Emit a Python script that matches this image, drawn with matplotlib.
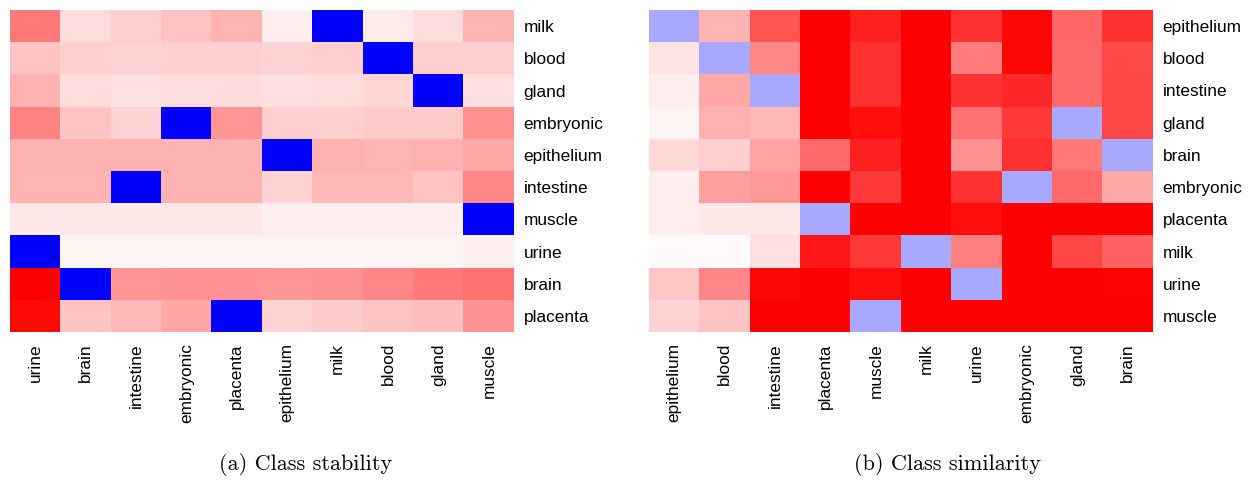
import matplotlib.pyplot as plt
import numpy as np

# (a) class stability
stab_rows = ["milk", "blood", "gland", "embryonic", "epithelium", "intestine",
             "muscle", "urine", "brain", "placenta"]
stab_cols = ["urine", "brain", "intestine", "embryonic", "placenta", "epithelium",
             "milk", "blood", "gland", "muscle"]
stab = np.array([
    [0.52, 0.14, 0.19, 0.24, 0.29, 0.07, -1.0, 0.08, 0.14, 0.29],
    [0.23, 0.19, 0.17, 0.19, 0.19, 0.17, 0.19, -1.0, 0.19, 0.19],
    [0.31, 0.14, 0.12, 0.14, 0.14, 0.12, 0.14, 0.16, -1.0, 0.13],
    [0.49, 0.23, 0.17, -1.0, 0.41, 0.19, 0.19, 0.21, 0.21, 0.43],
    [0.30, 0.30, 0.30, 0.30, 0.30, -1.0, 0.31, 0.29, 0.31, 0.34],
    [0.29, 0.29, -1.0, 0.30, 0.30, 0.17, 0.28, 0.28, 0.23, 0.47],
    [0.09, 0.09, 0.09, 0.09, 0.09, 0.07, 0.07, 0.07, 0.07, -1.0],
    [-1.0, 0.04, 0.04, 0.04, 0.04, 0.04, 0.04, 0.04, 0.04, 0.06],
    [1.00, -1.0, 0.41, 0.42, 0.42, 0.41, 0.42, 0.47, 0.52, 0.55],
    [0.96, 0.23, 0.28, 0.35, -1.0, 0.17, 0.20, 0.23, 0.25, 0.42],
])

# (b) class similarity
sim_rows = ["epithelium", "blood", "intestine", "gland", "brain", "embryonic",
            "placenta", "milk", "urine", "muscle"]
sim_cols = ["epithelium", "blood", "intestine", "placenta", "muscle", "milk",
            "urine", "embryonic", "gland", "brain"]
d = -0.34  # diagonal
sim = np.array([
    [d, 0.29, 0.67, 1.00, 0.87, 1.00, 0.81, 0.97, 0.60, 0.81],
    [0.11, d, 0.47, 1.00, 0.81, 1.00, 0.51, 0.97, 0.58, 0.71],
    [0.07, 0.34, d, 1.00, 0.80, 1.00, 0.80, 0.84, 0.58, 0.72],
    [0.04, 0.31, 0.28, 1.00, 0.94, 1.00, 0.56, 0.78, d, 0.72],
    [0.15, 0.19, 0.36, 0.58, 0.87, 1.00, 0.42, 0.81, 0.53, d],
    [0.07, 0.38, 0.40, 1.00, 0.78, 1.00, 0.81, d, 0.58, 0.34],
    [0.07, 0.09, 0.09, d, 1.00, 1.00, 0.94, 1.00, 1.00, 1.00],
    [0.02, 0.02, 0.12, 0.91, 0.78, d, 0.50, 1.00, 0.72, 0.62],
    [0.22, 0.47, 0.97, 1.00, 0.94, 1.00, d, 1.00, 1.00, 0.99],
    [0.17, 0.23, 1.00, 1.00, d, 1.00, 1.00, 1.00, 1.00, 1.00],
])

fig = plt.figure(figsize=(12.53, 4.8), dpi=100)
ax1 = fig.add_axes([10 / 1253, 1 - 332 / 480, 504 / 1253, 322 / 480])
ax2 = fig.add_axes([649 / 1253, 1 - 332 / 480, 504 / 1253, 322 / 480])

for ax, m, rows, cols in [(ax1, stab, stab_rows, stab_cols), (ax2, sim, sim_rows, sim_cols)]:
    ax.imshow(m, cmap="bwr", vmin=-1, vmax=1, aspect="auto", interpolation="nearest")
    ax.set_xticks(range(len(cols)))
    ax.set_xticklabels(cols, rotation=90, fontsize=12.4, family="Liberation Sans")
    ax.set_yticks(range(len(rows)))
    ax.set_yticklabels(rows, fontsize=12.4, family="Liberation Sans")
    ax.yaxis.tick_right()
    ax.tick_params(axis="y", length=0, pad=7)
    ax.tick_params(axis="x", length=0, pad=8)
    for s in ax.spines.values():
        s.set_visible(False)

fig.text(306 / 1253, 1 - 465 / 480, "(a) Class stability", ha="center", va="center",
         fontsize=16, family="cmr10")
fig.text(947 / 1253, 1 - 465 / 480, "(b) Class similarity", ha="center", va="center",
         fontsize=16, family="cmr10")

fig.savefig("out.png", dpi=100)
